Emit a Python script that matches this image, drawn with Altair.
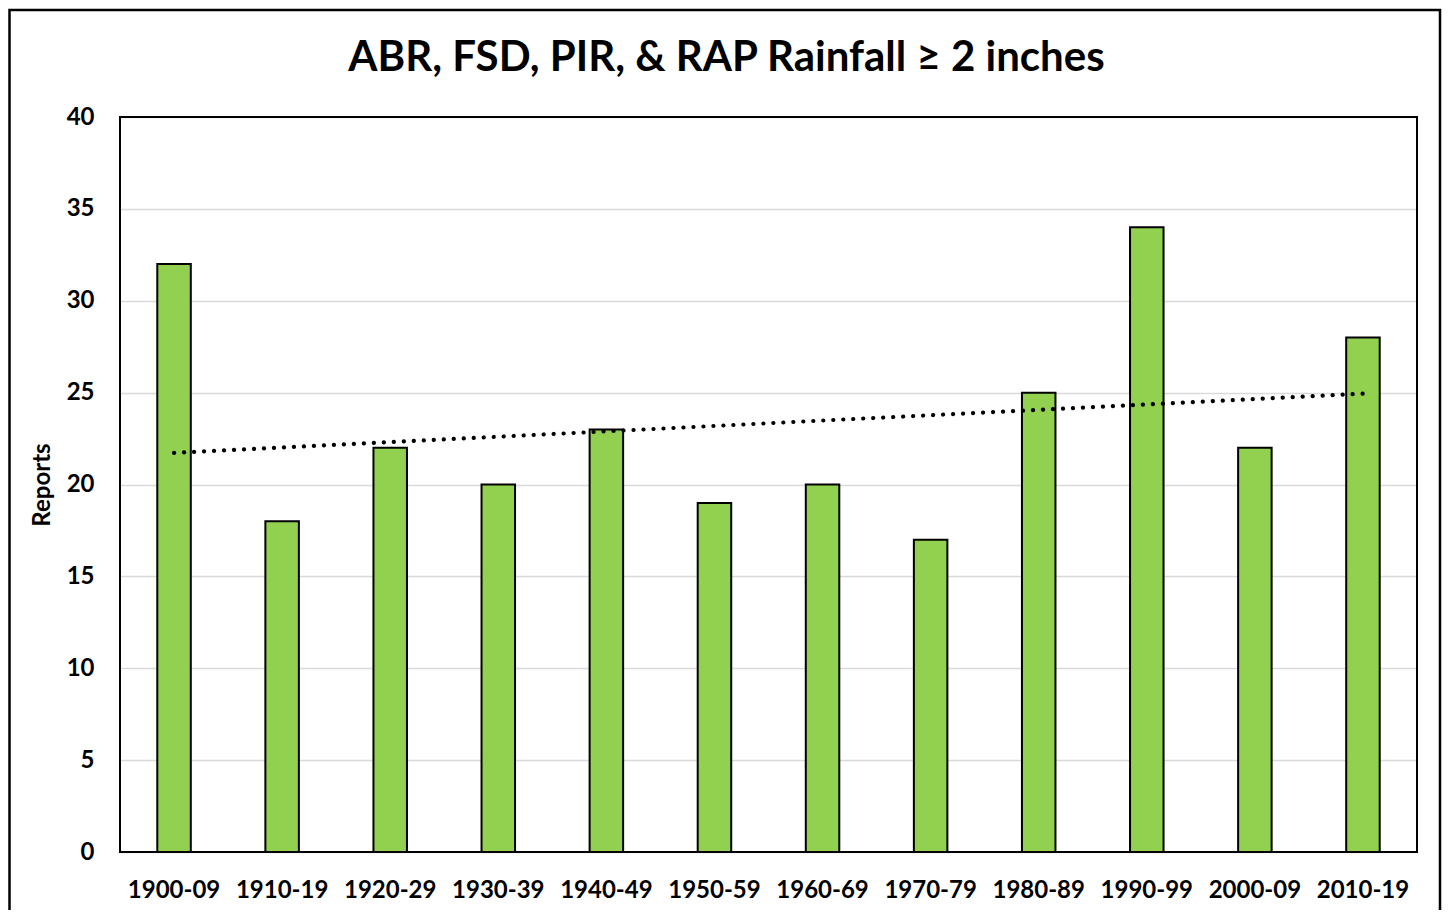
import altair as alt
import pandas as pd

periods = ["1900-09", "1910-19", "1920-29", "1930-39", "1940-49", "1950-59",
           "1960-69", "1970-79", "1980-89", "1990-99", "2000-09", "2010-19"]
reports = [32, 18, 22, 20, 23, 19, 20, 17, 25, 34, 22, 28]
y_ticks = [0, 5, 10, 15, 20, 25, 30, 35, 40]
title_text = ["ABR, FSD, PIR, & RAP Rainfall \u2265 2 inches"]

df = pd.DataFrame({"period": periods, "reports": reports, "idx": list(range(len(periods)))})

FONT = "Lato"
W, H = 1297, 735

xenc = alt.X("period:N", sort=periods,
             scale=alt.Scale(paddingInner=0.69, paddingOuter=0.345),
             axis=alt.Axis(title=None, labelAngle=0, domain=False, ticks=False,
                           labelPadding=26, labelFontSize=24, labelFont=FONT,
                           labelFontWeight="bold", labelColor="black"))
yenc = alt.Y("reports:Q", scale=alt.Scale(domain=[0, 40], nice=False),
             axis=alt.Axis(title="Reports", values=y_ticks, domain=False, ticks=False,
                           grid=True, gridColor="#d9d9d9", gridWidth=1.5,
                           labelPadding=26, labelFontSize=24, labelFont=FONT,
                           labelFontWeight="bold", labelColor="black",
                           titleFont=FONT, titleFontSize=24, titleFontWeight="bold",
                           titleColor="black", titlePadding=12))

base = alt.Chart(df)

bars = base.mark_bar(color="#92D050", stroke="black", strokeWidth=2).encode(x=xenc, y=yenc)

periods_js = "[" + ",".join("'" + p + "'" for p in periods) + "]"
trend = base.transform_regression("idx", "reports", method="linear").transform_calculate(
    period=periods_js + "[round(datum.idx)]"
).mark_line(color="black", strokeWidth=4.2, strokeDash=[0.1, 9.9], strokeCap="round").encode(
    x=alt.X("period:N", sort=periods), y="reports:Q")

one = pd.DataFrame({"t": title_text})

frame = alt.Chart(one).mark_rect(
    fill="transparent", stroke="black", strokeWidth=2.5, clip=False
).encode(x=alt.value(-110.5), x2=alt.value(1320), y=alt.value(-107), y2=alt.value(H + 80))

plot_border = alt.Chart(one).mark_rect(
    fill="transparent", stroke="black", strokeWidth=2
).encode(x=alt.value(0), x2=alt.value(W), y=alt.value(0), y2=alt.value(H))

title = alt.Chart(one).mark_text(
    font=FONT, fontSize=42, fontWeight="bold", color="black",
    align="center", baseline="alphabetic", clip=False
).encode(text="t:N", x=alt.value(W / 2 - 42), y=alt.value(-46))

chart = alt.layer(frame, bars, plot_border, trend, title).properties(
    width=W, height=H,
    autosize=alt.AutoSizeParams(type="none"),
    padding={"left": 112, "top": 109, "right": 25, "bottom": 58},
).configure_view(stroke=None).configure(background="white")

chart.save("out.html", embed_options={"renderer": "svg", "actions": False})
